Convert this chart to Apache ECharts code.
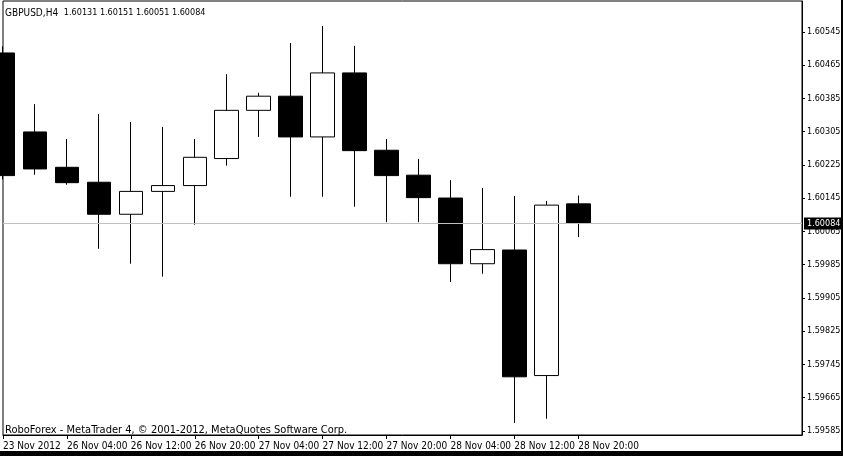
<!DOCTYPE html>
<html>
<head>
<meta charset="utf-8">
<script src="https://cdn.jsdelivr.net/npm/echarts@6/dist/echarts.min.js"></script>
<style>
html,body{margin:0;padding:0;background:#fff;}
#chart{width:843px;height:456px;}
</style>
</head>
<body>
<div id="chart"></div>
<script>
// ---- data ----
const symbolText = 'GBPUSD,H4';
const quoteText = '1.60131 1.60151 1.60051 1.60084';
const footerText = 'RoboForex - MetaTrader 4, \u00A9 2001-2012, MetaQuotes Software Corp.';
const categories = [
  '23 Nov 2012', '26 Nov 00:00', '26 Nov 04:00', '26 Nov 08:00', '26 Nov 12:00',
  '26 Nov 16:00', '26 Nov 20:00', '27 Nov 00:00', '27 Nov 04:00', '27 Nov 08:00',
  '27 Nov 12:00', '27 Nov 16:00', '27 Nov 20:00', '28 Nov 00:00', '28 Nov 04:00',
  '28 Nov 08:00', '28 Nov 12:00', '28 Nov 16:00', '28 Nov 20:00',
  '29 Nov 00:00', '29 Nov 04:00', '29 Nov 08:00', '29 Nov 12:00', '29 Nov 16:00',
  '29 Nov 20:00', '30 Nov 00:00'
];
const opens  = [1.60494, 1.60304, 1.60219, 1.60183, 1.60106, 1.60161, 1.60175, 1.60240, 1.60356, 1.60390,
                1.60292, 1.60446, 1.60260, 1.60200, 1.60145, 1.59987, 1.60020, 1.59718, 1.60131];
const highs  = [1.60510, 1.60371, 1.60287, 1.60347, 1.60328, 1.60316, 1.60287, 1.60443, 1.60398, 1.60518,
                1.60559, 1.60511, 1.60287, 1.60239, 1.60188, 1.60169, 1.60150, 1.60138, 1.60151];
const lows   = [1.60190, 1.60201, 1.60177, 1.60023, 1.59987, 1.59956, 1.60081, 1.60223, 1.60292, 1.60148,
                1.60148, 1.60124, 1.60087, 1.60087, 1.59943, 1.59963, 1.59604, 1.59614, 1.60051];
const closes = [1.60199, 1.60215, 1.60182, 1.60106, 1.60161, 1.60175, 1.60243, 1.60356, 1.60390, 1.60292,
                1.60446, 1.60259, 1.60199, 1.60146, 1.59987, 1.60021, 1.59715, 1.60128, 1.60084];
const priceTicks = [1.59585, 1.59665, 1.59745, 1.59825, 1.59905, 1.59985, 1.60065,
                    1.60145, 1.60225, 1.60305, 1.60385, 1.60465, 1.60545];
const priceMin = 1.59575;
const priceMax = 1.60619;

// ---- chart ----
const FONT = "'DejaVu Sans Condensed', 'Liberation Sans', sans-serif";
const candles = opens.map((o, i) => [o, closes[i], lows[i], highs[i]]);
const nBars = opens.length;
const lastClose = closes[nBars - 1];
const showTick = (i) => i % 2 === 0 && i < nBars;

const chart = echarts.init(document.getElementById('chart'), null, {renderer: 'canvas'});
chart.setOption({
  animation: false,
  backgroundColor: '#fff',
  title: {
    text: '{a|' + symbolText + '}  {b|' + quoteText + '}',
    left: 5, top: 8, padding: 0,
    textStyle: {
      fontFamily: FONT, fontSize: 10, fontWeight: 'normal', color: '#000',
      rich: {
        a: {fontFamily: FONT, fontSize: 10, color: '#000'},
        b: {fontFamily: FONT, fontSize: 9, color: '#000'}
      }
    }
  },
  grid: {
    left: 3, right: 41, top: 1, bottom: 21,
    containLabel: false, outerBoundsMode: 'none',
    show: true, borderColor: '#000', borderWidth: 1, backgroundColor: '#fff'
  },
  xAxis: {
    type: 'category',
    data: categories,
    boundaryGap: false,
    axisLine: {show: true, lineStyle: {color: '#000', width: 1}},
    axisTick: {show: true, length: 4, interval: (i) => showTick(i), lineStyle: {color: '#000'}},
    axisLabel: {
      interval: (i) => showTick(i),
      align: 'left', margin: 6,
      hideOverlap: false,
      fontFamily: FONT, fontSize: 10, color: '#000'
    },
    splitLine: {show: false}
  },
  yAxis: {
    type: 'value',
    position: 'right',
    min: priceMin, max: priceMax,
    scale: true,
    axisLine: {show: true, lineStyle: {color: '#000', width: 1}},
    axisTick: {show: true, length: 3, customValues: priceTicks, lineStyle: {color: '#000'}},
    axisLabel: {
      customValues: priceTicks,
      margin: 5,
      formatter: (v) => v.toFixed(5),
      fontFamily: FONT, fontSize: 9, color: '#000'
    },
    splitLine: {show: false}
  },
  graphic: [
    {type: 'text', left: 5, top: 425, z: 100,
     style: {text: footerText, font: '11px ' + FONT, fill: '#000'}},
    {type: 'rect', right: 0, top: 0, z: 100, shape: {width: 2, height: 456}, style: {fill: '#000'}},
    {type: 'rect', left: 0, bottom: 0, z: 100, shape: {width: 843, height: 5}, style: {fill: '#000'}}
  ],
  series: [{
    type: 'candlestick',
    data: candles,
    barWidth: 24,
    clip: true,
    itemStyle: {
      color: '#fff', color0: '#000',
      borderColor: '#000', borderColor0: '#000', borderWidth: 1
    },
    markLine: {
      silent: true,
      precision: 5,
      symbol: ['none', 'none'],
      animation: false,
      lineStyle: {color: '#c0c0c0', type: 'solid', width: 1},
      label: {
        show: true, position: 'end', distance: 2,
        formatter: () => lastClose.toFixed(5),
        backgroundColor: '#000', color: '#fff',
        fontFamily: FONT, fontSize: 9,
        padding: [2, 6, 1, 3]
      },
      data: [{yAxis: lastClose}]
    }
  }]
});
</script>
</body>
</html>
